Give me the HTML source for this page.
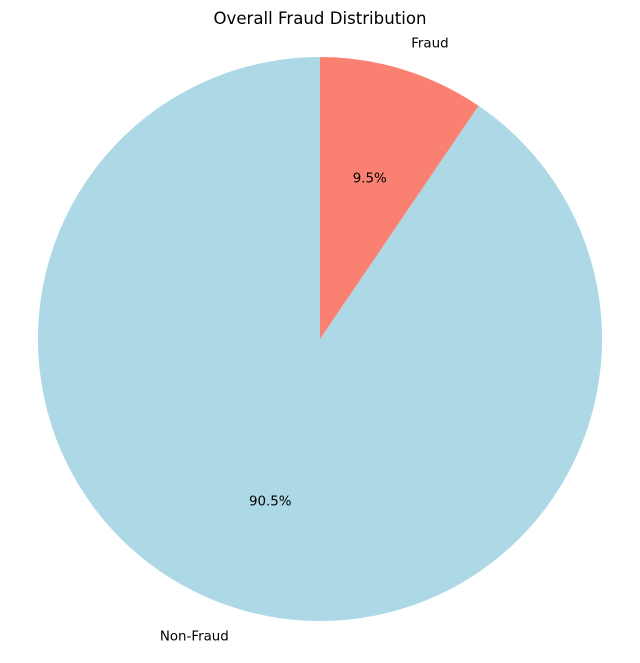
<!DOCTYPE html>
<html><head><meta charset="utf-8"><style>
body{margin:0;background:#fff;}
svg text{font-family:"DejaVu Sans","Liberation Sans",sans-serif;}
</style></head><body>
<svg id="chart" width="640" height="658" viewBox="0 0 640 658">
<text x="320" y="24" text-anchor="middle" font-size="16.6" fill="#000">Overall Fraud Distribution</text>
<g id="slices"></g>
</svg>
<script>
const categories = ["Non-Fraud", "Fraud"];
const values = [90.5, 9.5];
const colors = ["#add8e6", "#fa8072"];
const cx = 320, cy = 339, R = 282;
const svg = document.getElementById('slices');
const NS = "http://www.w3.org/2000/svg";
const total = values.reduce((a,b)=>a+b,0);
let start = 90;
function pt(angDeg, r){ const a = angDeg*Math.PI/180; return [cx + r*Math.cos(a), cy - r*Math.sin(a)]; }
values.forEach((v,i)=>{
  const sweep = v/total*360;
  const end = start + sweep;
  const [x1,y1] = pt(start,R), [x2,y2] = pt(end,R);
  const large = sweep > 180 ? 1 : 0;
  const p = document.createElementNS(NS,'path');
  p.setAttribute('d', `M${cx},${cy} L${x1},${y1} A${R},${R} 0 ${large} 0 ${x2},${y2} Z`);
  p.setAttribute('fill', colors[i]);
  
  
  svg.appendChild(p);
  const mid = (start+end)/2;
  const [lx,ly] = pt(mid, R*1.1);
  const t = document.createElementNS(NS,'text');
  t.setAttribute('x', lx); t.setAttribute('y', ly + 5);
  t.setAttribute('font-size', '13.4');
  t.setAttribute('text-anchor', Math.cos(mid*Math.PI/180) < 0 ? 'end' : 'start');
  t.textContent = categories[i];
  
  
  svg.appendChild(t);
  const [px,py] = pt(mid, R*0.6);
  const pc = document.createElementNS(NS,'text');
  pc.setAttribute('x', px); pc.setAttribute('y', py + 5);
  pc.setAttribute('font-size', '13.4');
  pc.setAttribute('text-anchor', 'middle');
  pc.textContent = v.toFixed(1) + '%';
  
  
  svg.appendChild(pc);
  start = end;
});
</script>
</body></html>
